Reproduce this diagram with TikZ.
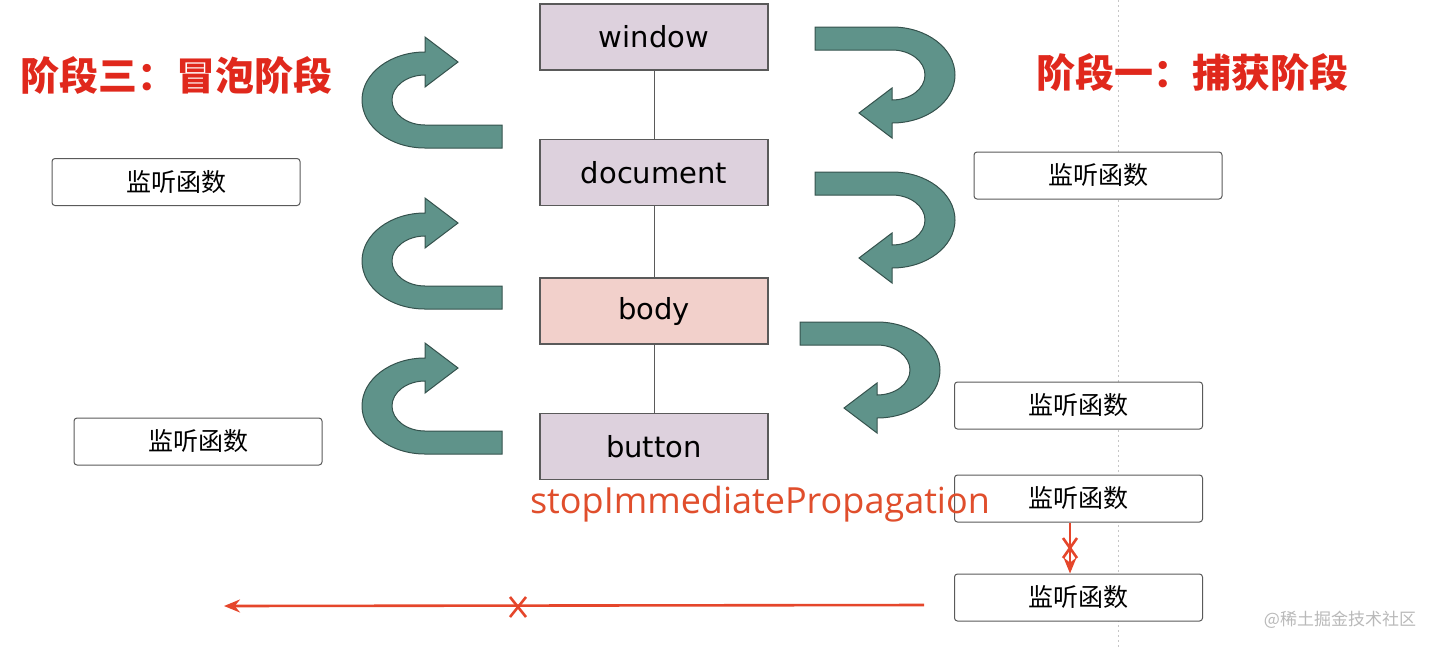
\documentclass[tikz,border=0pt]{standalone}
\usepackage{fontspec}
\setmainfont{DejaVu Sans}
\newfontfamily\cjk{Noto Sans CJK SC}
\newfontfamily\lab{Open Sans}
\usetikzlibrary{arrows.meta}
\definecolor{boxpurple}{HTML}{DDD1DD}
\definecolor{boxpink}{HTML}{F2D0CB}
\definecolor{teal}{HTML}{5F938A}
\definecolor{tealdark}{HTML}{35524D}
\definecolor{redline}{HTML}{E5462B}
\definecolor{titlered}{HTML}{E0281C}
\definecolor{labred}{HTML}{E04E2C}
\definecolor{edge}{HTML}{5A5A5A}
\tikzset{
  mainbox/.style={draw=edge, line width=1.3pt, fill=boxpurple, minimum width=228pt, minimum height=66pt, inner sep=0pt, font=\fontsize{29}{31}\selectfont},
  listen/.style={draw=edge, line width=1pt, rounded corners=3pt, fill=white, minimum width=248pt, minimum height=47pt, inner sep=0pt, font=\cjk\fontsize{25}{27}\selectfont},
  link/.style={draw=edge, line width=1pt},
  title/.style={text=titlered, font=\cjk\bfseries\fontsize{39}{41}\selectfont},
  redarrow/.style={draw=redline, line width=2.6pt, -{Stealth[length=16pt,width=13pt]}},
  redmark/.style={draw=redline, line width=2.6pt},
  uturnfill/.style={fill=teal, draw=tealdark, line width=1pt},
  uturn/.pic={
    \path[uturnfill] (77,48) -- (0,48)
      .. controls (-34.8,48) and (-63,26.5) .. (-63,0)
      .. controls (-63,-26.5) and (-34.8,-48) .. (0,-48)
      -- (0,-63) -- (33,-38) -- (0,-13) -- (0,-25)
      .. controls (-18.2,-25) and (-33,-13.8) .. (-33,0)
      .. controls (-33,13.8) and (-18.2,25) .. (0,25)
      -- (77,25) -- cycle;
  }
}
\begin{document}
\begin{tikzpicture}[x=1pt,y=-1pt]
\useasboundingbox (0,0) rectangle (1439,649);
% dotted guide line
\draw[gray!45, line width=1pt, dash pattern=on 2pt off 3pt] (1118,0) -- (1118,649);
% main chain
\node[mainbox] (win) at (654,37) {window};
\node[mainbox] (doc) at (654,172.5) {document};
\node[mainbox, fill=boxpink] (body) at (654,311) {body};
\node[mainbox] (btn) at (654,446.5) {button};
\draw[link] (win) -- (doc);
\draw[link] (doc) -- (body);
\draw[link] (body) -- (btn);
% titles
\node[title] (t3) at (176,75) {阶段三：冒泡阶段};
\node[title] (t1) at (1192,72) {阶段一：捕获阶段};
% listener boxes
\node[listen] (L1) at (176,182) {监听函数};
\node[listen] (L2) at (198,441.5) {监听函数};
\node[listen] (R1) at (1098,175.5) {监听函数};
\node[listen] (R2) at (1078.5,405.5) {监听函数};
\node[listen] (R3) at (1078.5,498.5) {监听函数};
\node[listen] (R4) at (1078.5,597.5) {监听函数};
% u-turn arrows
\pic at (425,100) {uturn};
\pic at (425,261) {uturn};
\pic at (425,406) {uturn};
\pic[rotate=180] at (892,75) {uturn};
\pic[rotate=180] at (892,220) {uturn};
\pic[rotate=180] at (877,370) {uturn};
% label
\node[text=labred, font=\lab\fontsize{36}{38}\selectfont, anchor=base] (stop) at (760,513) {stopImmediatePropagation};
% vertical stopped arrow
\draw[redarrow] ([xshift=-8.5pt]R3.south) -- ([xshift=-8.5pt]R4.north);
\coordinate (xv) at (1070,548);
\draw[redmark] ([shift={(-7,-10)}]xv) -- ([shift={(7,10)}]xv);
\draw[redmark] ([shift={(7,-10)}]xv) -- ([shift={(-7,10)}]xv);
% horizontal stopped arrow
\coordinate (hs) at (924,605);
\coordinate (he) at (224,606);
\draw[redarrow] (hs) -- (he);
\coordinate (xh) at (518,607);
\draw[redmark] ([shift={(-8,-10)}]xh) -- ([shift={(8,10)}]xh);
\draw[redmark] ([shift={(8,-10)}]xh) -- ([shift={(-8,10)}]xh);
% watermark
\node[text=gray!55, font=\cjk\fontsize{17}{19}\selectfont] (wm) at (1340,620) {@稀土掘金技术社区};
\end{tikzpicture}
\end{document}
